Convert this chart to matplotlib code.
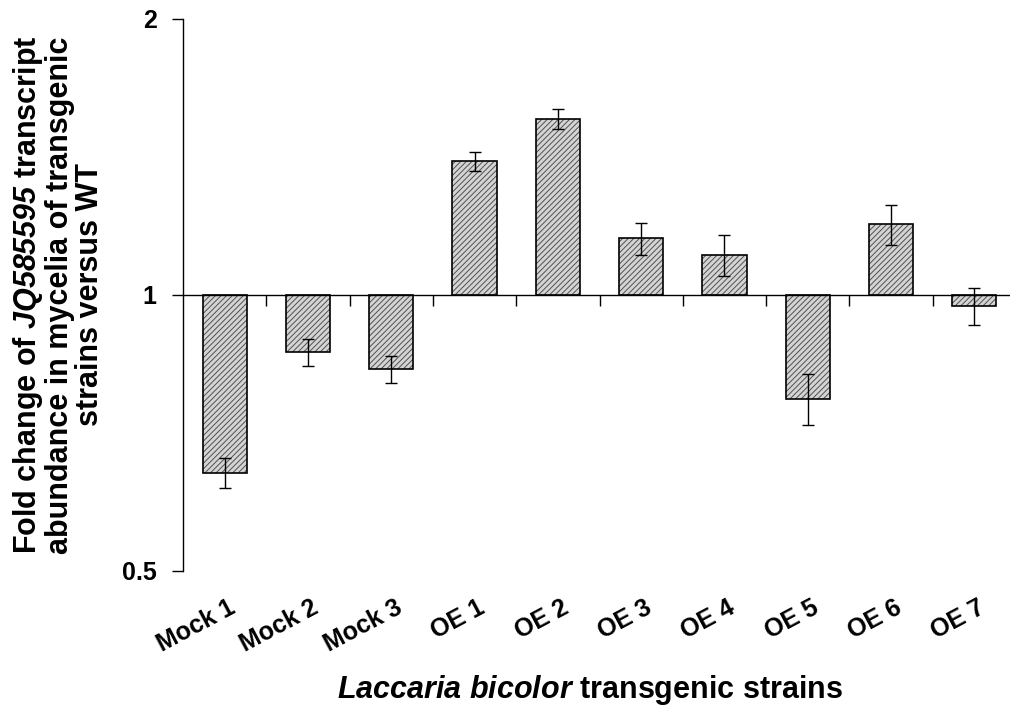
import numpy as np
import matplotlib
matplotlib.use('Agg')
import matplotlib.pyplot as plt
from matplotlib.transforms import blended_transform_factory

plt.rcParams['font.family'] = ['Liberation Sans', 'DejaVu Sans']
plt.rcParams['font.weight'] = 'bold'
plt.rcParams['mathtext.fontset'] = 'custom'
plt.rcParams['mathtext.sf'] = 'Liberation Sans:italic:bold'
plt.rcParams['mathtext.rm'] = 'Liberation Sans:bold'
plt.rcParams['hatch.linewidth'] = 0.7

strains = ['Mock 1', 'Mock 2', 'Mock 3', 'OE 1', 'OE 2', 'OE 3', 'OE 4', 'OE 5', 'OE 6', 'OE 7']
fold = [0.640, 0.866, 0.830, 1.399, 1.556, 1.153, 1.105, 0.771, 1.195, 0.973]
err = [0.024, 0.030, 0.028, 0.033, 0.040, 0.046, 0.057, 0.050, 0.060, 0.045]

fold = np.array(fold)
x = np.arange(len(strains))

fig = plt.figure(figsize=(10.1, 7.12), dpi=100)
ax = fig.add_axes([183 / 1010, 1 - 571 / 712, 833 / 1010, 552 / 712])

# hatched fill then black outline
ax.bar(x, fold - 1, bottom=1, width=0.53, color='#d4d4d4', hatch='//////',
       edgecolor='#505050', linewidth=0)
ax.bar(x, fold - 1, bottom=1, width=0.53, color='none', edgecolor='black', linewidth=1.2)
ax.errorbar(x, fold, yerr=err, fmt='none', ecolor='black', elinewidth=1, capsize=4, capthick=1)

ax.set_yscale('log', base=2)
ax.set_ylim(0.5, 2)
ax.set_yticks([0.5, 1, 2])
ax.set_yticklabels(['0.5', '1', '2'], fontsize=18, fontweight='bold')
ax.yaxis.set_minor_locator(plt.NullLocator())
ax.tick_params(axis='y', direction='out', length=8, width=1, pad=11)

ax.set_xlim(-0.5, 9.5)
ax.set_xticks(np.arange(0.5, 9, 1))
ax.set_xticklabels([])
ax.tick_params(axis='x', direction='out', length=8, width=1)

ax.spines['top'].set_visible(False)
ax.spines['right'].set_visible(False)
ax.spines['bottom'].set_position(('data', 1))
ax.spines['left'].set_linewidth(1)
ax.spines['bottom'].set_linewidth(1)

trans = blended_transform_factory(ax.transData, ax.transAxes)
for i, s in enumerate(strains):
    ax.text(i + 0.04, -0.045, s, transform=trans, rotation=28, rotation_mode='anchor',
            ha='right', va='top', fontsize=18, fontweight='bold')

fig.text(590 / 1010, 1 - 690 / 712, r'$\mathsf{Laccaria}$ $\mathsf{bicolor}$ transgenic strains',
         ha='center', va='center', fontsize=22, fontweight='bold')

fig.text(58 / 1010, 1 - 295 / 712,
         'Fold change of $\\mathsf{JQ585595}$ transcript\nabundance in mycelia of transgenic\nstrains versus WT',
         rotation=90, ha='center', va='center', multialignment='center',
         fontsize=22, fontweight='bold', linespacing=1.0)

fig.savefig('out.png', dpi=100)
